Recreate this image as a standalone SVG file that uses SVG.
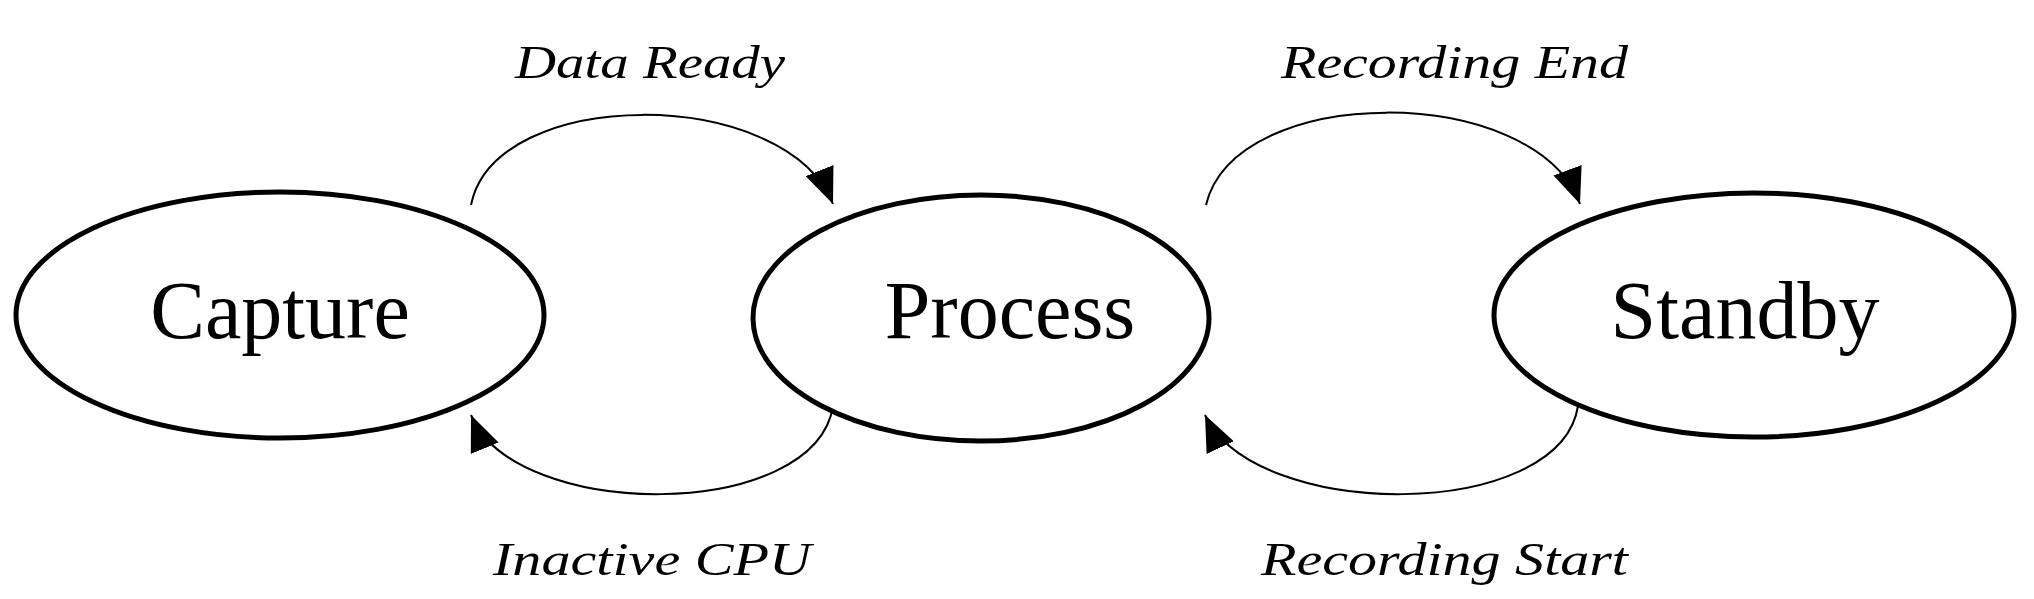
<svg xmlns="http://www.w3.org/2000/svg" width="2034" height="599" viewBox="0 0 2034 599">
<style>
.node{fill:#fff;stroke:#000;stroke-width:5}
.nt{font-family:"Liberation Serif",serif;font-size:82px;text-anchor:middle;fill:#000}
.lb{font-family:"Liberation Serif",serif;font-style:italic;font-size:46px;fill:#000}
.c{fill:none;stroke:#000;stroke-width:2}
</style>
<defs>
<marker id="ah" markerUnits="userSpaceOnUse" markerWidth="38" markerHeight="30" refX="36" refY="15" orient="auto">
<path d="M0,0 L36,15 L0,30 Z" fill="#000"/>
</marker>
</defs>
<rect width="2034" height="599" fill="#fff"/>
<g id="connectors">
<path class="c" d="M471,205 C495,85 785,85 833,204" marker-end="url(#ah)"/>
<path class="c" d="M833,406 C815,522 515,522 471,415" marker-end="url(#ah)"/>
<path class="c" d="M1206,205 C1235,82 1535,82 1580,204" marker-end="url(#ah)"/>
<path class="c" d="M1578,406 C1560,522 1255,522 1205,415" marker-end="url(#ah)"/>
</g>
<g id="capture"><ellipse class="node" cx="280" cy="315" rx="264" ry="123"/><text class="nt" x="280" y="338">Capture</text></g>
<g id="process"><ellipse class="node" cx="981" cy="318" rx="228" ry="123"/><text class="nt" x="1010" y="338">Process</text></g>
<g id="standby"><ellipse class="node" cx="1754" cy="315" rx="260" ry="122"/><text class="nt" x="1745" y="338">Standby</text></g>
<g id="labels">
<text class="lb" x="515" y="78" textLength="270" lengthAdjust="spacingAndGlyphs">Data Ready</text>
<text class="lb" x="493" y="575" textLength="318" lengthAdjust="spacingAndGlyphs">Inactive CPU</text>
<text class="lb" x="1281" y="78" textLength="347" lengthAdjust="spacingAndGlyphs">Recording End</text>
<text class="lb" x="1261" y="575" textLength="367" lengthAdjust="spacingAndGlyphs">Recording Start</text>
</g>
</svg>
